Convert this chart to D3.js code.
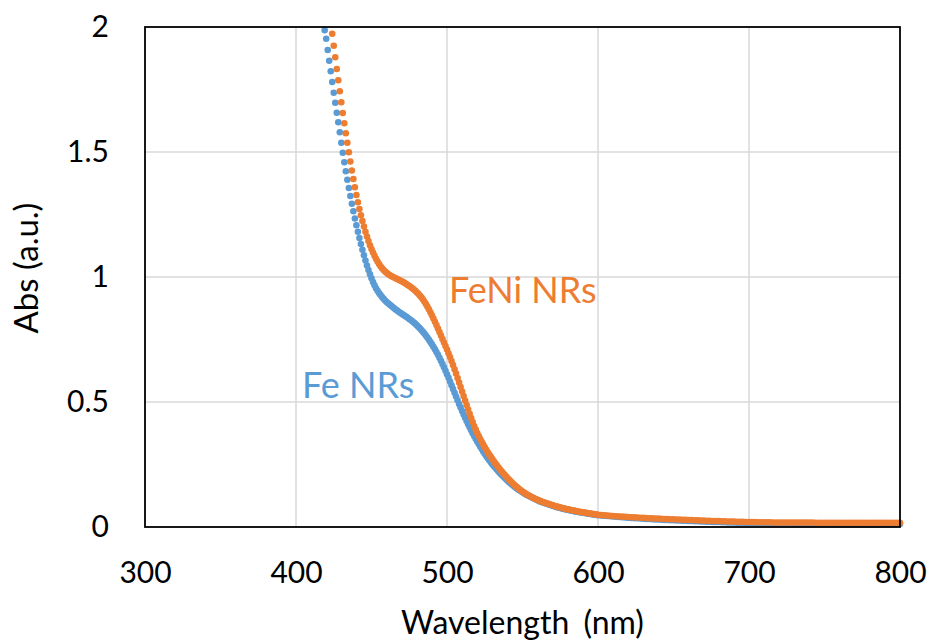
<!DOCTYPE html>
<html>
<head>
<meta charset="utf-8">
<script src="https://cdnjs.cloudflare.com/ajax/libs/d3/7.8.5/d3.min.js"></script>
<style>
  body { margin: 0; background: #fff; }
  text { font-family: Lato, "Open Sans", sans-serif; }
</style>
</head>
<body>
<div id="chart"></div>
<script>
// Fe NRs absorbance, 1 nm steps from 419 to 600 nm
var feStart = 419;
var feAbs = [
  1.987, 1.953, 1.908, 1.865, 1.823, 1.780, 1.737, 1.697, 1.657, 1.619,
  1.579, 1.537, 1.497, 1.459, 1.423, 1.389, 1.356, 1.324, 1.293, 1.263,
  1.234, 1.207, 1.181, 1.156, 1.132, 1.109, 1.087, 1.066, 1.046, 1.028,
  1.011, 0.995, 0.980, 0.967, 0.955, 0.945, 0.936, 0.928, 0.920, 0.913,
  0.906, 0.900, 0.895, 0.890, 0.885, 0.880, 0.875, 0.870, 0.866, 0.861,
  0.857, 0.853, 0.849, 0.845, 0.841, 0.837, 0.832, 0.828, 0.823, 0.818,
  0.813, 0.807, 0.801, 0.795, 0.788, 0.781, 0.774, 0.766, 0.758, 0.749,
  0.740, 0.731, 0.721, 0.711, 0.700, 0.689, 0.677, 0.665, 0.652, 0.639,
  0.625, 0.611, 0.597, 0.582, 0.567, 0.552, 0.537, 0.522, 0.507, 0.492,
  0.478, 0.464, 0.450, 0.437, 0.424, 0.411, 0.399, 0.387, 0.375, 0.364,
  0.353, 0.342, 0.332, 0.322, 0.312, 0.302, 0.293, 0.284, 0.275, 0.267,
  0.259, 0.251, 0.244, 0.237, 0.230, 0.223, 0.216, 0.210, 0.204, 0.198,
  0.192, 0.186, 0.180, 0.175, 0.170, 0.165, 0.160, 0.155, 0.151, 0.147,
  0.143, 0.139, 0.135, 0.131, 0.128, 0.125, 0.122, 0.119, 0.116, 0.113,
  0.110, 0.107, 0.104, 0.101, 0.099, 0.097, 0.095, 0.093, 0.091, 0.089,
  0.087, 0.085, 0.083, 0.081, 0.079, 0.078, 0.076, 0.074, 0.073, 0.071,
  0.070, 0.069, 0.067, 0.066, 0.065, 0.063, 0.062, 0.061, 0.060, 0.059,
  0.058, 0.057, 0.056, 0.055, 0.054, 0.053, 0.052, 0.051, 0.050, 0.049,
  0.048, 0.047
];

// FeNi NRs absorbance, 1 nm steps from 424 to 600 nm
var feNiStart = 424;
var feNiAbs = [
  1.973, 1.925, 1.879, 1.832, 1.787, 1.743, 1.699, 1.656, 1.615, 1.575,
  1.537, 1.499, 1.462, 1.426, 1.392, 1.359, 1.328, 1.299, 1.272, 1.247,
  1.224, 1.202, 1.181, 1.162, 1.144, 1.127, 1.112, 1.098, 1.085, 1.073,
  1.062, 1.052, 1.043, 1.035, 1.028, 1.022, 1.017, 1.012, 1.008, 1.004,
  1.001, 0.998, 0.995, 0.992, 0.989, 0.986, 0.983, 0.980, 0.976, 0.972,
  0.968, 0.964, 0.960, 0.955, 0.950, 0.945, 0.939, 0.933, 0.926, 0.919,
  0.911, 0.902, 0.892, 0.882, 0.871, 0.859, 0.847, 0.834, 0.821, 0.808,
  0.794, 0.780, 0.766, 0.752, 0.738, 0.724, 0.710, 0.695, 0.680, 0.664,
  0.648, 0.631, 0.614, 0.596, 0.578, 0.560, 0.542, 0.524, 0.506, 0.488,
  0.470, 0.453, 0.436, 0.420, 0.404, 0.390, 0.376, 0.364, 0.352, 0.341,
  0.330, 0.319, 0.309, 0.299, 0.290, 0.281, 0.272, 0.263, 0.255, 0.247,
  0.239, 0.231, 0.224, 0.217, 0.210, 0.203, 0.196, 0.190, 0.184, 0.178,
  0.172, 0.166, 0.161, 0.156, 0.151, 0.146, 0.142, 0.138, 0.134, 0.130,
  0.127, 0.123, 0.120, 0.117, 0.114, 0.111, 0.109, 0.106, 0.104, 0.101,
  0.099, 0.097, 0.095, 0.093, 0.091, 0.089, 0.087, 0.085, 0.083, 0.082,
  0.080, 0.078, 0.077, 0.075, 0.074, 0.072, 0.071, 0.070, 0.068, 0.067,
  0.066, 0.065, 0.063, 0.062, 0.061, 0.060, 0.059, 0.058, 0.057, 0.056,
  0.055, 0.054, 0.053, 0.052, 0.051, 0.050, 0.049
];

// flat tails, 2 nm steps from 602 to 800 nm
var tailStart = 602;
var feTail = [
  0.046, 0.045, 0.044, 0.043, 0.042, 0.041, 0.040, 0.039, 0.038, 0.037,
  0.036, 0.035, 0.035, 0.034, 0.033, 0.032, 0.032, 0.031, 0.030, 0.030,
  0.029, 0.028, 0.028, 0.027, 0.027, 0.026, 0.026, 0.025, 0.025, 0.024,
  0.024, 0.023, 0.023, 0.022, 0.022, 0.021, 0.021, 0.020, 0.020, 0.020,
  0.019, 0.019, 0.018, 0.018, 0.018, 0.017, 0.017, 0.017, 0.016, 0.016,
  0.016, 0.016, 0.015, 0.015, 0.015, 0.015, 0.015, 0.014, 0.014, 0.014,
  0.014, 0.014, 0.014, 0.014, 0.014, 0.013, 0.013, 0.013, 0.013, 0.013,
  0.013, 0.013, 0.013, 0.013, 0.013, 0.013, 0.013, 0.013, 0.013, 0.013,
  0.012, 0.012, 0.012, 0.012, 0.012, 0.012, 0.012, 0.012, 0.012, 0.012,
  0.012, 0.012, 0.012, 0.012, 0.012, 0.012, 0.012, 0.012, 0.012, 0.012
];
var feNiTail = [
  0.048, 0.047, 0.046, 0.045, 0.044, 0.043, 0.042, 0.042, 0.041, 0.040,
  0.039, 0.039, 0.038, 0.037, 0.037, 0.036, 0.035, 0.035, 0.034, 0.034,
  0.033, 0.032, 0.032, 0.031, 0.031, 0.030, 0.030, 0.029, 0.029, 0.028,
  0.028, 0.027, 0.027, 0.026, 0.026, 0.025, 0.025, 0.024, 0.024, 0.024,
  0.023, 0.023, 0.022, 0.022, 0.022, 0.021, 0.021, 0.021, 0.020, 0.020,
  0.020, 0.020, 0.019, 0.019, 0.019, 0.019, 0.019, 0.018, 0.018, 0.018,
  0.018, 0.018, 0.018, 0.018, 0.018, 0.018, 0.018, 0.018, 0.018, 0.018,
  0.018, 0.017, 0.017, 0.017, 0.017, 0.017, 0.017, 0.017, 0.017, 0.017,
  0.017, 0.017, 0.017, 0.017, 0.017, 0.017, 0.017, 0.017, 0.017, 0.017,
  0.017, 0.017, 0.017, 0.017, 0.017, 0.017, 0.017, 0.017, 0.017, 0.017
];

var xTicks = [300, 400, 500, 600, 700, 800];
var yTicks = [0, 0.5, 1, 1.5, 2];
var yTickLabels = ["0", "0.5", "1", "1.5", "2"];

// set the dimensions and margins of the graph
var margin = { top: 27, right: 31, bottom: 116, left: 145 },
  width = 931 - margin.left - margin.right,
  height = 643 - margin.top - margin.bottom;

var svg = d3.select("#chart")
  .append("svg")
  .attr("width", 931)
  .attr("height", 643)
  .append("g")
  .attr("transform", "translate(" + margin.left + "," + margin.top + ")");

var x = d3.scaleLinear().domain([300, 800]).range([0, width]);
var y = d3.scaleLinear().domain([0, 2]).range([height, 0]);

// turn the value lists into [wavelength, abs] points
function points(start, vals, tail) {
  var pts = vals.map(function (v, i) { return [start + i, v]; });
  tail.forEach(function (v, i) { pts.push([tailStart + 2 * i, v]); });
  return pts;
}
var series = [
  { name: "Fe NRs", color: "#5B9BD5", pts: points(feStart, feAbs, feTail) },
  { name: "FeNi NRs", color: "#ED7D31", pts: points(feNiStart, feNiAbs, feNiTail) }
];

// gridlines
svg.append("g")
  .selectAll("line")
  .data(xTicks.slice(1, -1))
  .enter().append("line")
  .attr("x1", function (d) { return x(d); })
  .attr("x2", function (d) { return x(d); })
  .attr("y1", 0).attr("y2", height)
  .style("stroke", "#d9d9d9").style("stroke-width", 1.5);
svg.append("g")
  .selectAll("line")
  .data(yTicks.slice(1, -1))
  .enter().append("line")
  .attr("x1", 0).attr("x2", width)
  .attr("y1", function (d) { return y(d); })
  .attr("y2", function (d) { return y(d); })
  .style("stroke", "#d9d9d9").style("stroke-width", 1.5);

// the dots
series.forEach(function (s) {
  svg.append("g")
    .selectAll("circle")
    .data(s.pts)
    .enter().append("circle")
    .attr("cx", function (d) { return x(d[0]); })
    .attr("cy", function (d) { return y(d[1]); })
    .attr("r", 3.3)
    .style("fill", s.color);
});

// frame
svg.append("rect")
  .attr("width", width).attr("height", height)
  .style("fill", "none").style("stroke", "#000").style("stroke-width", 1.8);

// axes
var xAxis = svg.append("g")
  .attr("transform", "translate(0," + height + ")")
  .call(d3.axisBottom(x).tickValues(xTicks).tickSize(0).tickPadding(35).tickFormat(d3.format("d")));
var yAxis = svg.append("g")
  .call(d3.axisLeft(y).tickValues(yTicks).tickSize(0).tickPadding(36)
    .tickFormat(function (d, i) { return yTickLabels[i]; }));
[xAxis, yAxis].forEach(function (a) {
  a.select(".domain").remove();
  a.selectAll("text").style("font-size", "30px").style("fill", "#000")
    .style("font-family", "Lato, 'Open Sans', sans-serif");
});

// axis titles
svg.append("text")
  .attr("x", width / 2).attr("y", 634 - margin.top)
  .style("text-anchor", "middle").style("font-size", "32px")
  .style("word-spacing", "6px")
  .text("Wavelength (nm)");
svg.append("text")
  .attr("transform", "translate(" + (38 - margin.left) + "," + (268 - margin.top) + ") rotate(-90)")
  .style("text-anchor", "middle").style("font-size", "33px")
  .text("Abs (a.u.)");

// series labels
svg.append("text")
  .attr("x", 449 - margin.left).attr("y", 303 - margin.top)
  .style("font-size", "36px").style("fill", "#ED7D31")
  .text("FeNi NRs");
svg.append("text")
  .attr("x", 302 - margin.left).attr("y", 398 - margin.top)
  .style("font-size", "36px").style("fill", "#5B9BD5")
  .text("Fe NRs");
</script>
</body>
</html>
